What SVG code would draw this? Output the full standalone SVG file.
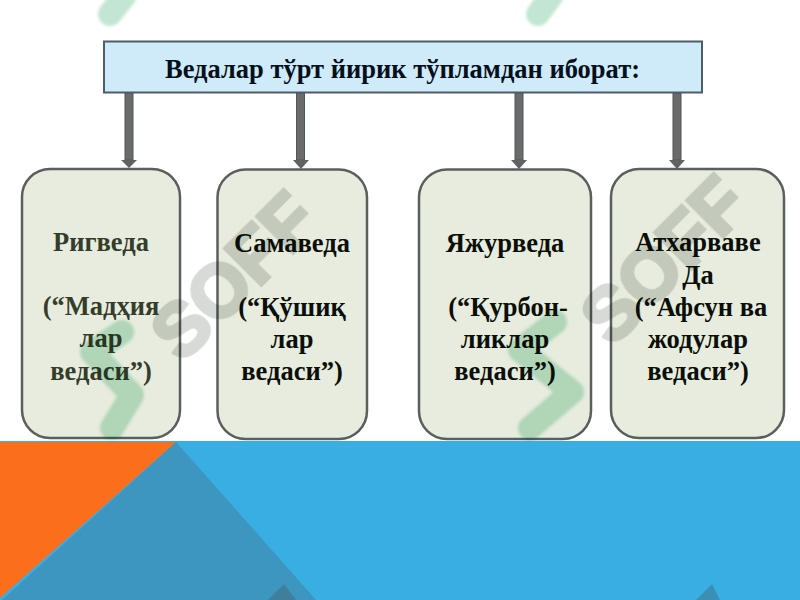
<svg xmlns="http://www.w3.org/2000/svg" width="800" height="600" viewBox="0 0 800 600">
<style>
.node{fill:#e7ecde;stroke:#5a5f5c;stroke-width:2.5}
.t{font-family:"Liberation Serif",serif;font-weight:bold;font-size:26.500px;text-anchor:middle;fill:#0b0f08}
.shaft{fill:#6b6b6b;stroke:#50565c;stroke-width:1}
.wm{font-family:"Liberation Sans",sans-serif;font-weight:bold;font-size:74px;fill:#9a9f97;stroke:#9a9f97;stroke-width:4;opacity:.38;text-anchor:middle}
.j{fill:none;stroke:#a8dcc0;stroke-width:24;opacity:.7;stroke-linejoin:round;stroke-linecap:round;filter:url(#soft)}
</style>
<defs>
<filter id="soft" filterUnits="userSpaceOnUse" x="0" y="-20" width="800" height="620"><feGaussianBlur stdDeviation="1.500"/></filter>
</defs>
<rect width="800" height="600" fill="#fff"/>
<g id="background">
<rect x="0" y="441" width="800" height="159" fill="#38aee2"/>
<path d="M0 442H176L0 598Z" fill="#fb6e1c"/>
<path d="M176 442L316 600H2Z" fill="#3c96c0"/>
<path d="M268 600L284 584L296 600Z" fill="#3f7f9c"/>
<path d="M696 600L712 584L720 600Z" fill="#3c8fb4"/>
</g>
<g id="connectors">
<g id="c1"><rect class="shaft" x="125" y="93" width="8" height="67"/><path d="M121 160H137L129 168Z" fill="#5f6365"/></g>
<g id="c2"><rect class="shaft" x="296.500" y="93" width="8" height="67"/><path d="M293 160H309L301 169Z" fill="#5f6365"/></g>
<g id="c3"><rect class="shaft" x="515" y="93" width="8" height="67"/><path d="M511 160H527L519 169Z" fill="#5f6365"/></g>
<g id="c4"><rect class="shaft" x="673" y="93" width="8" height="67"/><path d="M669 160H685L677 169Z" fill="#5f6365"/></g>
</g>
<g id="title"><rect x="104" y="41.500" width="598" height="51" fill="#cfeaf9" stroke="#4f5c68" stroke-width="2"/>
<text class="t" x="402.500" y="78" style="fill:#06101c">Ведалар тўрт йирик тўпламдан иборат:</text></g>
<g id="node1"><rect class="node" x="22" y="169" width="158" height="269" rx="28"/>
<text class="t" x="101" y="251" style="fill:#343d2b">Ригведа</text>
<text class="t" x="101" y="315" style="fill:#343d2b">(“Мадҳия</text>
<text class="t" x="101" y="347" style="fill:#343d2b">лар</text>
<text class="t" x="101" y="380" style="fill:#343d2b">ведаси”)</text></g>
<g id="node2"><rect class="node" x="217.500" y="169.500" width="149.500" height="269.500" rx="28"/>
<text class="t" x="292" y="252">Самаведа</text>
<text class="t" x="292" y="316">(“Қўшиқ</text>
<text class="t" x="292" y="348">лар</text>
<text class="t" x="292" y="380">ведаси”)</text></g>
<g id="node3"><rect class="node" x="419" y="169.500" width="172" height="269.500" rx="28"/>
<text class="t" x="505" y="252">Яжурведа</text>
<text class="t" x="508" y="316">(“Қурбон-</text>
<text class="t" x="505" y="348">ликлар</text>
<text class="t" x="505" y="380">ведаси”)</text></g>
<g id="node4"><rect class="node" x="611" y="169" width="173" height="269" rx="28"/>
<text class="t" x="698" y="251">Атхарваве</text>
<text class="t" x="698" y="284">Да</text>
<text class="t" x="701" y="316">(“Афсун ва</text>
<text class="t" x="698" y="348">жодулар</text>
<text class="t" x="698" y="380">ведаси”)</text></g>
<g id="watermark" style="mix-blend-mode:multiply">
<text class="wm" transform="translate(252 294) rotate(-45)">SOFF</text>
<text class="wm" transform="translate(682 278) rotate(-45)">SOFF</text>
<path class="j" d="M122 332L92 352L132 395L112 428"/>
<path class="j" d="M555 322L520 350L572 392L530 428"/>
<path class="j" d="M125 -5L110 14"/>
<path class="j" d="M552 -5L538 14"/>
</g>
</svg>
